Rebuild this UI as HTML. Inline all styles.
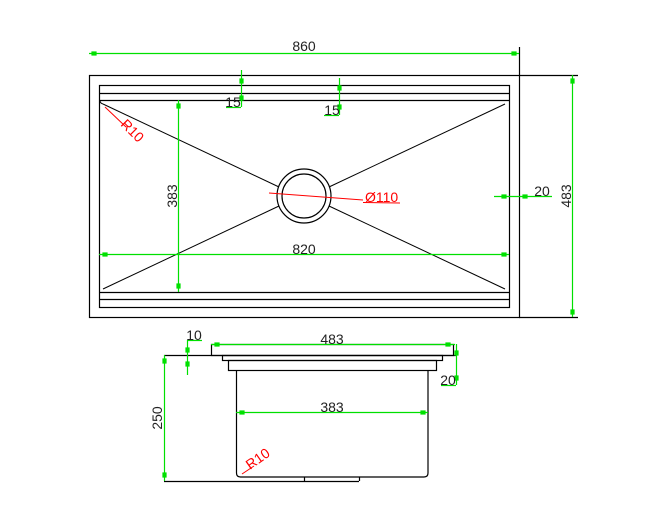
<!DOCTYPE html>
<html><head><meta charset="utf-8"><style>body{margin:0;background:#fff}svg{display:block}</style></head><body>
<svg width="672" height="519" xmlns="http://www.w3.org/2000/svg" font-family="Liberation Sans, sans-serif" font-size="14">
<g stroke="#000" stroke-width="1.2" fill="none">
<rect x="89.5" y="75.5" width="430" height="242"/>
<line x1="519.5" y1="47" x2="519.5" y2="75"/>
<line x1="519" y1="75.5" x2="578" y2="75.5"/>
<line x1="519" y1="317.5" x2="578" y2="317.5"/>
<rect x="99.5" y="85.5" width="410" height="222"/>
<line x1="99" y1="93.5" x2="509" y2="93.5"/>
<line x1="99" y1="100.5" x2="509" y2="100.5"/>
<line x1="99" y1="292.5" x2="509" y2="292.5"/>
<line x1="99" y1="299.5" x2="509" y2="299.5"/>
<circle cx="304" cy="196" r="27"/>
<circle cx="304" cy="196" r="22"/>
<g stroke-width="1">
<line x1="103" y1="104" x2="279" y2="187"/>
<line x1="505" y1="104" x2="329" y2="187"/>
<line x1="103" y1="289" x2="279" y2="206"/>
<line x1="505" y1="289" x2="329" y2="206"/>
<path d="M103 104 a4 4 0 0 1 -3 -3"/>
</g>
<rect x="211.5" y="344.5" width="242" height="11"/>
<line x1="164" y1="355.5" x2="457" y2="355.5"/>
<rect x="222.5" y="355.5" width="220" height="5"/>
<rect x="228.5" y="360.5" width="208" height="10"/>
<path d="M236.5 370 V473 q0 4 4 4 H424 q4 0 4 -4 V370"/>
<line x1="164" y1="481.5" x2="359" y2="481.5"/>
<line x1="304.5" y1="477" x2="304.5" y2="481"/>
<line x1="359.5" y1="477" x2="359.5" y2="481"/>
</g>
<g stroke="#00e000" stroke-width="1.2" fill="#00e000">
<line x1="89" y1="53.5" x2="519" y2="53.5"/>
<rect x="92" y="52" width="4" height="3"/><rect x="512" y="52" width="4" height="3"/>
<line x1="572.5" y1="75" x2="572.5" y2="317"/>
<rect x="571" y="79" width="3" height="4"/><rect x="571" y="310" width="3" height="4"/>
<line x1="241.5" y1="70" x2="241.5" y2="107"/><line x1="226" y1="107.5" x2="241" y2="107.5"/>
<rect x="240" y="79" width="3" height="4"/><rect x="240" y="96" width="3" height="4"/>
<line x1="339.5" y1="78" x2="339.5" y2="115"/><line x1="324" y1="115.5" x2="339" y2="115.5"/>
<rect x="338" y="86" width="3" height="4"/><rect x="338" y="105" width="3" height="4"/>
<line x1="178.5" y1="100" x2="178.5" y2="292"/>
<rect x="177" y="104" width="3" height="4"/><rect x="177" y="284" width="3" height="4"/>
<line x1="99" y1="254.5" x2="509" y2="254.5"/>
<rect x="103" y="253" width="4" height="3"/><rect x="502" y="253" width="4" height="3"/>
<line x1="494" y1="196.5" x2="552" y2="196.5"/>
<rect x="502" y="195" width="4" height="3"/><rect x="523" y="195" width="4" height="3"/>
<line x1="211" y1="344.5" x2="455" y2="344.5"/>
<rect x="215" y="343" width="4" height="3"/><rect x="446" y="343" width="4" height="3"/>
<line x1="187.5" y1="340" x2="187.5" y2="375"/><line x1="187" y1="340.5" x2="202" y2="340.5"/>
<rect x="186" y="348" width="3" height="4"/><rect x="186" y="362" width="3" height="4"/>
<line x1="456.5" y1="344" x2="456.5" y2="385"/><line x1="441" y1="385.5" x2="456" y2="385.5"/>
<rect x="455" y="351" width="3" height="4"/><rect x="455" y="376" width="3" height="4"/>
<line x1="164.5" y1="355" x2="164.5" y2="481"/>
<rect x="163" y="359" width="3" height="4"/><rect x="163" y="473" width="3" height="4"/>
<line x1="236" y1="412.5" x2="428" y2="412.5"/>
<rect x="240" y="411" width="4" height="3"/><rect x="421" y="411" width="4" height="3"/>
</g>
<g stroke="#f00" stroke-width="1" fill="none">
<line x1="269" y1="193" x2="363" y2="200"/>
<line x1="363" y1="202.5" x2="400" y2="203"/>
<line x1="105" y1="107" x2="126" y2="127"/>
<line x1="242" y1="474" x2="254" y2="466"/>
</g>
<g fill="#222" text-anchor="middle">
<text x="304" y="51">860</text>
<text x="233" y="107">15</text>
<text x="332" y="115">15</text>
<text x="304" y="254">820</text>
<text x="542" y="196">20</text>
<text transform="translate(177,196) rotate(-90)">383</text>
<text transform="translate(571,196) rotate(-90)">483</text>
<text x="332" y="344">483</text>
<text x="194" y="340">10</text>
<text x="448" y="385">20</text>
<text x="332" y="412">383</text>
<text transform="translate(162,418) rotate(-90)">250</text>
</g>
<g fill="#f00">
<text x="365" y="202">Ø110</text>
<text transform="translate(120,125) rotate(45)">R10</text>
<text transform="translate(250,470) rotate(-35)">R10</text>
</g>
</svg>
</body></html>
